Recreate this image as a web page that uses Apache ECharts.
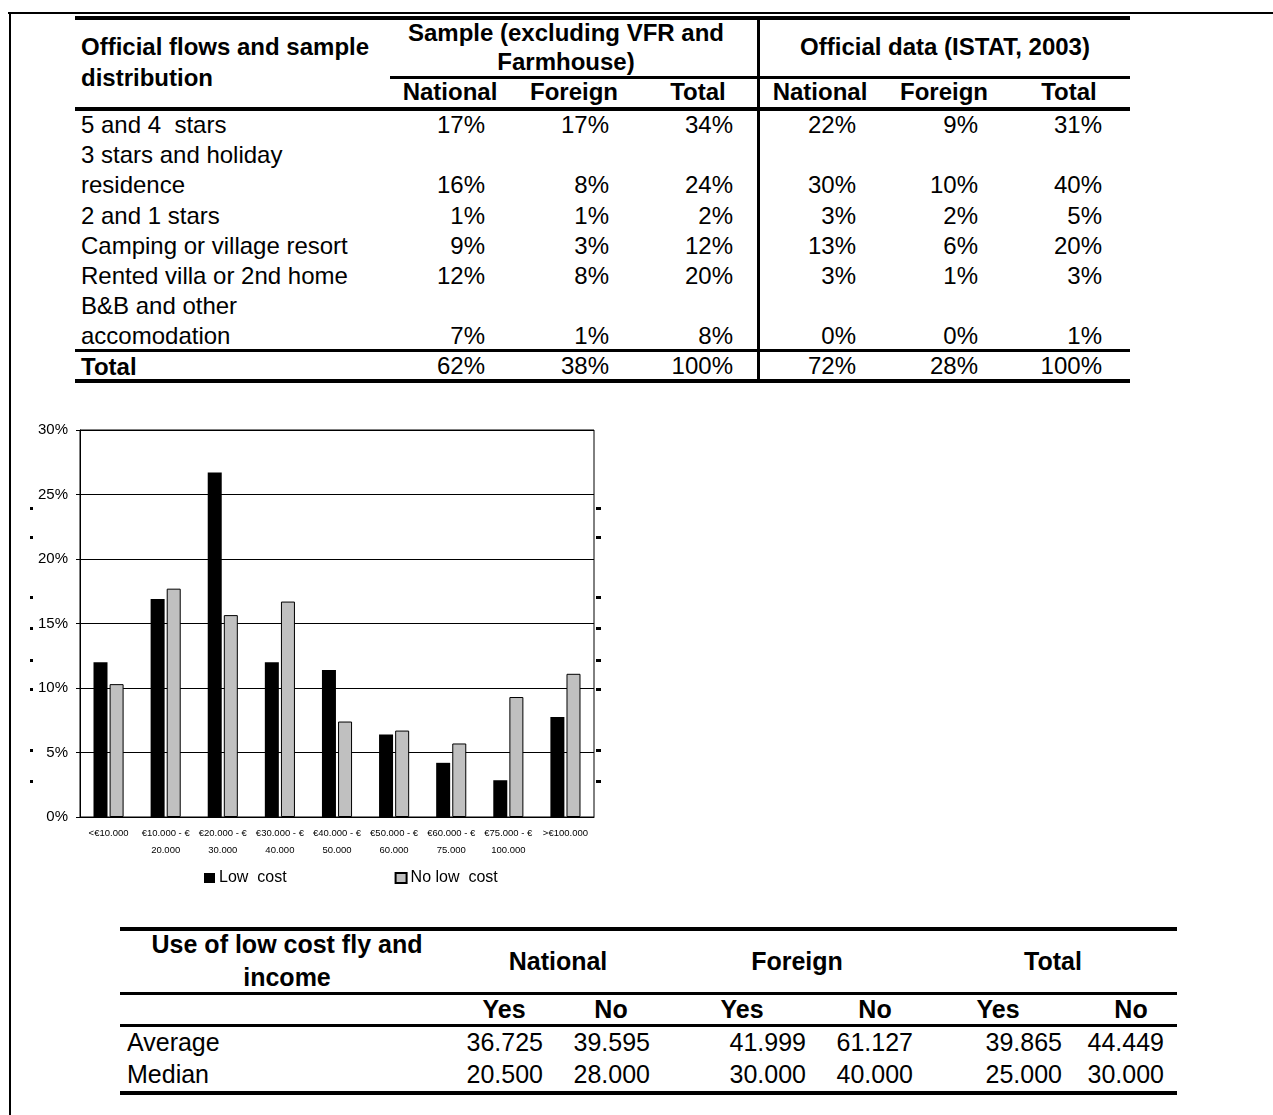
<!DOCTYPE html>
<html>
<head>
<meta charset="utf-8">
<script src="https://cdn.jsdelivr.net/npm/echarts@6/dist/echarts.min.js"></script>
<style>
  html, body { margin: 0; padding: 0; background: #fff; }
  body { width: 1273px; height: 1115px; position: relative; overflow: hidden;
         font-family: "Liberation Sans", Arial, sans-serif; color: #000; }
  .t { position: absolute; white-space: pre; line-height: 30px; height: 30px; }
  .b { font-weight: bold; }
  .ln { position: absolute; background: #000; }
  #chart { position: absolute; left: 0; top: 400px; width: 640px; height: 500px; }
</style>
</head>
<body>
<div id="chart"></div>
<script>
// ---------------- data ----------------
const categories = ['<€10.000', '€10.000 - €\n20.000', '€20.000 - €\n30.000', '€30.000 - €\n40.000',
  '€40.000 - €\n50.000', '€50.000 - €\n60.000', '€60.000 - €\n75.000', '€75.000 - €\n100.000', '>€100.000'];
const lowCost   = [12.0, 16.9, 26.7, 12.0, 11.4, 6.4, 4.2, 2.85, 7.75];
const noLowCost = [10.3, 17.7, 15.65, 16.7, 7.4, 6.7, 5.7, 9.3, 11.1];
const seriesNames = ['Low  cost', 'No low  cost'];
const yTicks = [0, 5, 10, 15, 20, 25, 30];

const t1Title = ['Official flows and sample', 'distribution'];
const t1Groups = [['Sample (excluding VFR and', 'Farmhouse)'], ['Official data (ISTAT, 2003)']];
const t1Cols = ['National', 'Foreign', 'Total', 'National', 'Foreign', 'Total'];
const t1Rows = [['5 and 4  stars'], ['3 stars and holiday', 'residence'], ['2 and 1 stars'],
  ['Camping or village resort'], ['Rented villa or 2nd home'], ['B&B and other', 'accomodation']];
const t1Values = [[17, 17, 34, 22, 9, 31], [16, 8, 24, 30, 10, 40], [1, 1, 2, 3, 2, 5],
  [9, 3, 12, 13, 6, 20], [12, 8, 20, 3, 1, 3], [7, 1, 8, 0, 0, 1]];
const t1TotalLabel = 'Total';
const t1Total = [62, 38, 100, 72, 28, 100];

const t3Title = ['Use of low cost fly and', 'income'];
const t3Groups = ['National', 'Foreign', 'Total'];
const t3Sub = ['Yes', 'No', 'Yes', 'No', 'Yes', 'No'];
const t3Rows = ['Average', 'Median'];
const t3Values = [['36.725', '39.595', '41.999', '61.127', '39.865', '44.449'],
                  ['20.500', '28.000', '30.000', '40.000', '25.000', '30.000']];

// ---------------- layout helpers ----------------
const FS = 24;
const FS3 = 25;
function txt(str, x, yc, align, bold, size) {
  const d = document.createElement('div');
  d.className = 't' + (bold ? ' b' : '');
  d.textContent = str;
  d.style.fontSize = (size || FS) + 'px';
  d.style.top = (yc - 15) + 'px';
  d.style.left = x + 'px';
  if (align === 'center') d.style.transform = 'translateX(-50%)';
  else if (align === 'right') d.style.transform = 'translateX(-100%)';
  document.body.appendChild(d);
}
function line(x1, y1, w, h) {
  const d = document.createElement('div');
  d.className = 'ln';
  d.style.left = x1 + 'px'; d.style.top = y1 + 'px';
  d.style.width = w + 'px'; d.style.height = h + 'px';
  document.body.appendChild(d);
}

// page frame
line(8, 12, 1265, 2);
line(9, 12, 2, 1103);

// ---------------- table 1 ----------------
(function () {
  const L = 75, R = 1130;
  line(L, 16, R - L, 4);
  line(390, 76, R - 390, 3);
  line(L, 107, R - L, 4);
  line(L, 349, R - L, 3);
  line(L, 379, R - L, 4);
  line(757, 16, 3, 367);
  txt(t1Title[0], 81, 47, 'left', true);
  txt(t1Title[1], 81, 78, 'left', true);
  const gCenters = [566, 945];
  txt(t1Groups[0][0], gCenters[0], 33, 'center', true);
  txt(t1Groups[0][1], gCenters[0], 62, 'center', true);
  txt(t1Groups[1][0], gCenters[1], 47, 'center', true);
  const colCenters = [450, 574, 698, 820, 944, 1069];
  const colRight = [485, 609, 733, 856, 978, 1102];
  t1Cols.forEach((c, i) => txt(c, colCenters[i], 92, 'center', true));
  let y = 125;
  t1Rows.forEach((r, ri) => {
    r.forEach((s, k) => { txt(s, 81, y + k * 30.2, 'left', false); });
    const vy = y + (r.length - 1) * 30.2;
    t1Values[ri].forEach((v, ci) => txt(v + '%', colRight[ci], vy, 'right', false));
    y += r.length * 30.2;
  });
  txt(t1TotalLabel, 81, 367, 'left', true);
  t1Total.forEach((v, ci) => txt(v + '%', colRight[ci], 366, 'right', false));
})();

// ---------------- table 3 ----------------
(function () {
  const L = 120, R = 1177;
  line(L, 927, R - L, 4);
  line(L, 992, R - L, 3);
  line(L, 1024, R - L, 3);
  line(L, 1091, R - L, 4);
  txt(t3Title[0], 287, 944, 'center', true, FS3);
  txt(t3Title[1], 287, 977, 'center', true, FS3);
  const gC = [558, 797, 1053];
  t3Groups.forEach((g, i) => txt(g, gC[i], 961, 'center', true, FS3));
  const sC = [504, 611, 742, 875, 998, 1131];
  t3Sub.forEach((s, i) => txt(s, sC[i], 1009, 'center', true, FS3));
  const vR = [543, 650, 806, 913, 1062, 1164];
  t3Rows.forEach((r, ri) => {
    const yc = 1042 + ri * 32;
    txt(r, 127, yc, 'left', false, FS3);
    t3Values[ri].forEach((v, ci) => txt(v, vR[ci], yc, 'right', false, FS3));
  });
})();

// ---------------- bar chart ----------------
const chart = echarts.init(document.getElementById('chart'), null, { renderer: 'canvas' });
const OY = 400;
const leftMarks = [508, 537, 597, 628, 660, 689, 750, 781];
const graphics = [];
leftMarks.forEach(y => {
  graphics.push({ type: 'rect', shape: { x: 30, y: y - OY - 1, width: 3, height: 3 }, style: { fill: '#000' } });
  graphics.push({ type: 'rect', shape: { x: 596, y: y - OY - 1, width: 5, height: 3 }, style: { fill: '#000' } });
});
chart.setOption({
  animation: false,
  textStyle: { fontFamily: 'Liberation Sans, Arial, sans-serif', color: '#000' },
  grid: { left: 80, right: 46, top: 30, bottom: 83, show: true, borderColor: '#000', borderWidth: 1,
          containLabel: false },
  legend: {
    left: 199, top: 465, itemWidth: 11, itemHeight: 10, itemGap: 108,
    textStyle: { fontSize: 16, color: '#000', fontFamily: 'Liberation Sans, Arial, sans-serif', padding: [0, 0, 0, -1] },
    data: [{ name: seriesNames[0], icon: 'rect' }, { name: seriesNames[1], icon: 'rect' }]
  },
  xAxis: {
    type: 'category', data: categories,
    axisLine: { lineStyle: { color: '#000', width: 1 } },
    axisTick: { length: 5, lineStyle: { color: '#000' } },
    axisLabel: { interval: 0, fontSize: 9.5, lineHeight: 17, margin: 8, color: '#000' }
  },
  yAxis: {
    type: 'value', min: yTicks[0], max: yTicks[yTicks.length - 1], interval: 5,
    axisLine: { show: true, lineStyle: { color: '#000' } },
    axisTick: { show: true, length: 4, lineStyle: { color: '#000' } },
    axisLabel: { formatter: '{value}%', fontSize: 15, margin: 12, color: '#000' },
    splitLine: { lineStyle: { color: '#000', width: 1 } }
  },
  series: [
    { name: seriesNames[0], type: 'bar', data: lowCost, barWidth: 14, barGap: '15%',
      itemStyle: { color: '#000' } },
    { name: seriesNames[1], type: 'bar', data: noLowCost, barWidth: 14,
      itemStyle: { color: '#c0c0c0', borderColor: '#000', borderWidth: 1 } }
  ],
  graphic: graphics
});
</script>
</body>
</html>
